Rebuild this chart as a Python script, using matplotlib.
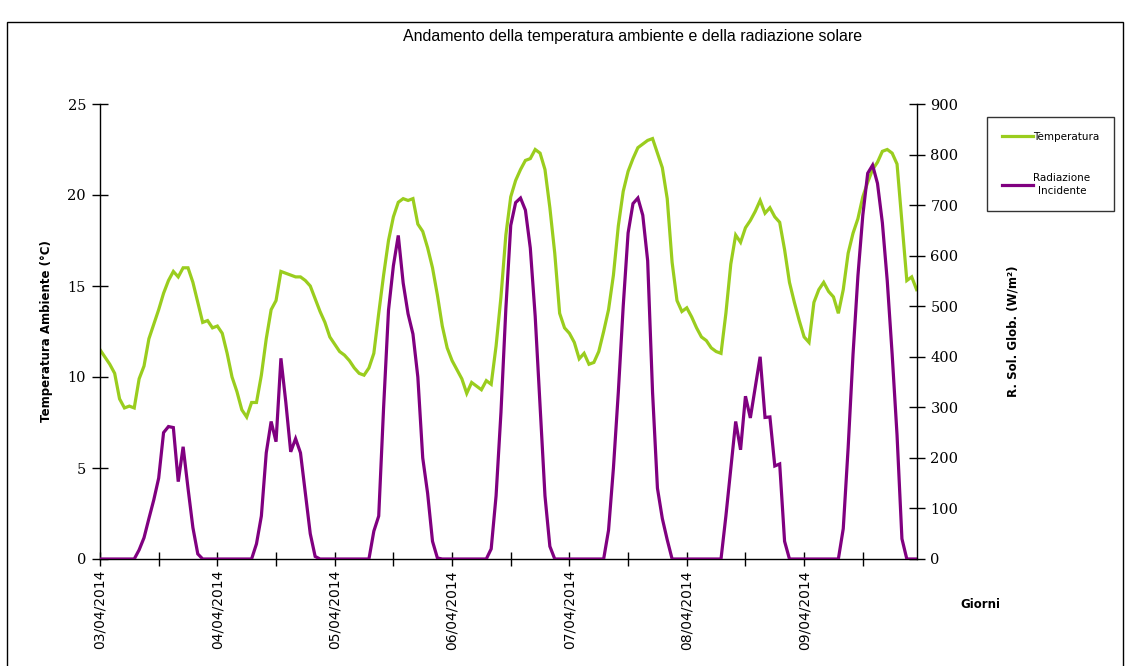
import matplotlib
matplotlib.use("Agg")
import matplotlib.pyplot as plt
import matplotlib.dates as mdates
from matplotlib.patches import Rectangle
import pandas as pd

# hourly readings, 03/04/2014 00:00 -> 09/04/2014 23:00
start_time = "2014-04-03 00:00"

temperatura = [
    # 03/04
    11.5, 11.1, 10.7, 10.2, 8.8, 8.3, 8.4, 8.3, 9.9, 10.6, 12.1, 12.9,
    13.7, 14.6, 15.3, 15.8, 15.5, 16.0, 16.0, 15.2, 14.1, 13.0, 13.1, 12.7,
    # 04/04
    12.8, 12.4, 11.3, 10.0, 9.2, 8.2, 7.8, 8.6, 8.6, 10.1, 12.1, 13.7,
    14.2, 15.8, 15.7, 15.6, 15.5, 15.5, 15.3, 15.0, 14.3, 13.6, 13.0, 12.2,
    # 05/04
    11.8, 11.4, 11.2, 10.9, 10.5, 10.2, 10.1, 10.5, 11.3, 13.5, 15.6, 17.5,
    18.8, 19.6, 19.8, 19.7, 19.8, 18.4, 18.0, 17.1, 16.0, 14.5, 12.8, 11.6,
    # 06/04
    10.9, 10.4, 9.9, 9.1, 9.7, 9.5, 9.3, 9.8, 9.6, 11.7, 14.4, 17.8,
    19.9, 20.8, 21.4, 21.9, 22.0, 22.5, 22.3, 21.4, 19.3, 16.8, 13.5, 12.7,
    # 07/04
    12.4, 11.9, 11.0, 11.3, 10.7, 10.8, 11.4, 12.5, 13.7, 15.6, 18.3, 20.2,
    21.3, 22.0, 22.6, 22.8, 23.0, 23.1, 22.3, 21.5, 19.8, 16.3, 14.2, 13.6,
    # 08/04
    13.8, 13.3, 12.7, 12.2, 12.0, 11.6, 11.4, 11.3, 13.5, 16.2, 17.8, 17.4,
    18.2, 18.6, 19.1, 19.7, 19.0, 19.3, 18.8, 18.5, 17.0, 15.2, 14.1, 13.1,
    # 09/04
    12.2, 11.9, 14.1, 14.8, 15.2, 14.7, 14.4, 13.5, 14.8, 16.8, 17.9, 18.7,
    19.9, 20.7, 21.4, 21.8, 22.4, 22.5, 22.3, 21.7, 18.5, 15.3, 15.5, 14.8,
]

radiazione = [
    # 03/04
    0, 0, 0, 0, 0, 0, 0, 0, 18, 42, 80, 117,
    160, 250, 262, 260, 153, 222, 140, 62, 10, 0, 0, 0,
    # 04/04
    0, 0, 0, 0, 0, 0, 0, 0, 30, 85, 210, 272,
    232, 397, 310, 212, 238, 210, 130, 50, 5, 0, 0, 0,
    # 05/04
    0, 0, 0, 0, 0, 0, 0, 0, 55, 85, 300, 492,
    580, 640, 546, 485, 445, 360, 200, 130, 35, 2, 0, 0,
    # 06/04
    0, 0, 0, 0, 0, 0, 0, 0, 20, 125, 290, 495,
    660, 705, 714, 690, 615, 480, 303, 125, 25, 0, 0, 0,
    # 07/04
    0, 0, 0, 0, 0, 0, 0, 0, 57, 180, 330, 500,
    645, 703, 714, 680, 590, 330, 140, 80, 38, 0, 0, 0,
    # 08/04
    0, 0, 0, 0, 0, 0, 0, 0, 85, 178, 272, 216,
    322, 279, 340, 400, 280, 281, 184, 188, 35, 0, 0, 0,
    # 09/04
    0, 0, 0, 0, 0, 0, 0, 0, 60, 220, 405, 560,
    680, 763, 779, 743, 665, 550, 405, 245, 40, 0, 0, 0,
]

temp_ticks = [0, 5, 10, 15, 20, 25]
rad_ticks = [0, 100, 200, 300, 400, 500, 600, 700, 800, 900]

GREEN = "#9acd1e"
PURPLE = "#800080"

times = pd.date_range(start_time, periods=len(temperatura), freq="h")

fig = plt.figure(figsize=(11.26, 6.66), dpi=100)
ax = fig.add_axes([100 / 1126, 1 - 559 / 666, (916.6 - 100) / 1126, (559 - 104) / 666])
ax2 = ax.twinx()

l_temp, = ax.plot(times, temperatura, color=GREEN, lw=2.3, solid_joinstyle="miter")
l_rad, = ax2.plot(times, radiazione, color=PURPLE, lw=2.3, solid_joinstyle="miter")

ax.set_xlim(times[0], times[-1])
ax.set_ylim(0, 25)
ax2.set_ylim(0, 900)
ax.set_yticks(temp_ticks)
ax2.set_yticks(rad_ticks)

ax.xaxis.set_major_locator(mdates.DayLocator())
ax.xaxis.set_major_formatter(mdates.DateFormatter("%d/%m/%Y"))
ax.xaxis.set_minor_locator(mdates.HourLocator(byhour=[12]))

for a in (ax, ax2):
    a.spines["top"].set_visible(False)
    for s in a.spines.values():
        s.set_linewidth(1.0)
ax.spines["right"].set_visible(False)
ax2.spines["left"].set_visible(False)
ax2.spines["bottom"].set_visible(False)

ax.tick_params(axis="x", which="both", direction="inout", length=10, width=1, pad=3)
ax.tick_params(axis="y", direction="inout", length=12, width=1, pad=4)
ax2.tick_params(axis="y", direction="inout", length=12, width=1, pad=4)

for lbl in ax.get_xticklabels():
    lbl.set_rotation(90)
    lbl.set_fontsize(10)
    lbl.set_family("DejaVu Sans")
for lbl in ax.get_yticklabels() + ax2.get_yticklabels():
    lbl.set_fontsize(10.5)
    lbl.set_family("DejaVu Serif")

ax.set_ylabel("Temperatura Ambiente (°C)", fontsize=8.5, fontweight="bold")
ax.yaxis.set_label_coords(-0.058, 0.5)
ax2.set_ylabel("R. Sol. Glob. (W/m²)", fontsize=8.5, fontweight="bold")
ax2.yaxis.set_label_coords(1.11, 0.5)

fig.text(980 / 1126, 1 - 605 / 666, "Giorni", fontsize=8.5, fontweight="bold",
         ha="center", va="center")

fig.text(633 / 1126, 1 - 37 / 666,
         "Andamento della temperatura ambiente e della radiazione solare",
         fontsize=11.5, ha="center", va="center", family="Liberation Sans")

leg = fig.legend([l_temp, l_rad], ["Temperatura", "Radiazione\nIncidente"],
                 loc="upper left", bbox_to_anchor=(987 / 1126, 1 - 117 / 666),
                 fontsize=7.5, frameon=True, fancybox=False, edgecolor="black",
                 handlelength=3.0, handletextpad=0.05, labelspacing=3.0,
                 borderpad=1.4, borderaxespad=0)
leg.get_frame().set_linewidth(1.0)
leg.get_texts()[1].set_multialignment("center")
leg.get_texts()[1].set_linespacing(1.4)

fig.patches.append(Rectangle((7 / 1126, -0.01), 1116 / 1126, (666 - 22) / 666 + 0.01,
                             transform=fig.transFigure, fill=False, lw=1.0,
                             edgecolor="black"))

fig.savefig("out.png", dpi=100, facecolor="white")
